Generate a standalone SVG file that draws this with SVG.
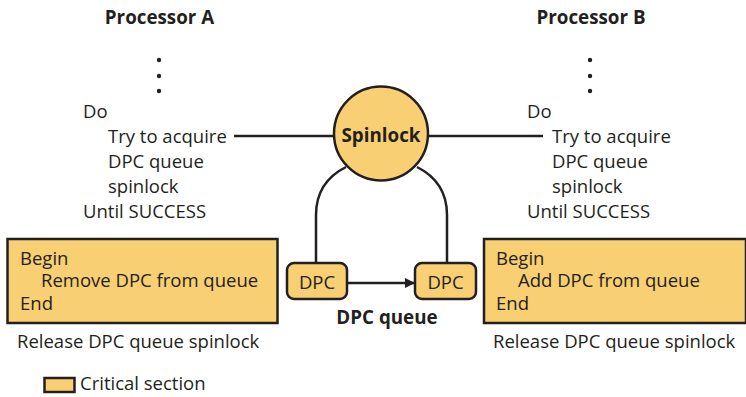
<svg xmlns="http://www.w3.org/2000/svg" width="746" height="397" viewBox="0 0 746 397">
<style>
.t{font-family:"Open Sans","Noto Sans","Liberation Sans",sans-serif;font-size:18.5px;fill:#231f20}
.b{font-family:"Open Sans","Noto Sans","Liberation Sans",sans-serif;font-size:18.8px;font-weight:bold;fill:#231f20}
.box{fill:#f8cf72;stroke:#231f20;stroke-width:2.5}
.ln{fill:none;stroke:#231f20;stroke-width:2.5}
.dot{fill:#231f20}
</style>
<defs>
<marker id="ah" viewBox="0 0 10 10" refX="9" refY="5" markerWidth="4" markerHeight="4" orient="auto" markerUnits="strokeWidth">
<path d="M0,0 L10,5 L0,10 z" fill="#231f20"/>
</marker>
</defs>
<g id="connectors">
<line class="ln" x1="234" y1="136" x2="334" y2="136"/>
<line class="ln" x1="428" y1="136" x2="543" y2="136"/>
<path class="ln" d="M316,263 L316,215 C316,190 328,176 346,167"/>
<path class="ln" d="M447,263 L447,215 C447,190 435,176 417,167"/>
<line class="ln" x1="347" y1="283" x2="414" y2="283" marker-end="url(#ah)"/>
</g>
<g id="procA">
<text class="b" x="159.5" y="24" text-anchor="middle">Processor A</text>
<circle class="dot" cx="159" cy="60" r="2.2"/>
<circle class="dot" cx="159" cy="76" r="2.2"/>
<circle class="dot" cx="159" cy="91" r="2.2"/>
<text class="t" x="83" y="118">Do</text>
<text class="t" x="108" y="143">Try to acquire</text>
<text class="t" x="108" y="168">DPC queue</text>
<text class="t" x="108" y="193">spinlock</text>
<text class="t" x="83" y="218">Until SUCCESS</text>
</g>
<g id="procB">
<text class="b" x="591" y="24" text-anchor="middle">Processor B</text>
<circle class="dot" cx="590" cy="60" r="2.2"/>
<circle class="dot" cx="590" cy="76" r="2.2"/>
<circle class="dot" cx="590" cy="91" r="2.2"/>
<text class="t" x="527" y="118">Do</text>
<text class="t" x="552" y="143">Try to acquire</text>
<text class="t" x="552" y="168">DPC queue</text>
<text class="t" x="552" y="193">spinlock</text>
<text class="t" x="527" y="218">Until SUCCESS</text>
</g>
<g id="spinlock">
<circle class="box" cx="381" cy="133.5" r="47"/>
<text class="b" x="381" y="142" text-anchor="middle" font-size="21">Spinlock</text>
</g>
<g id="dpc1">
<rect class="box" x="287" y="263" width="60" height="36" rx="7"/>
<text class="t" x="317" y="289" text-anchor="middle" font-size="20">DPC</text>
</g>
<g id="dpc2">
<rect class="box" x="415" y="263" width="61" height="36" rx="7"/>
<text class="t" x="445.5" y="289" text-anchor="middle" font-size="20">DPC</text>
</g>
<g id="queueLabel">
<text class="b" x="387" y="324" text-anchor="middle" font-size="19.2">DPC queue</text>
</g>
<g id="critA">
<rect class="box" x="7.5" y="239" width="270" height="84"/>
<text class="t" x="20" y="265">Begin</text>
<text class="t" x="41" y="287">Remove DPC from queue</text>
<text class="t" x="20" y="310">End</text>
<text class="t" x="17" y="348">Release DPC queue spinlock</text>
</g>
<g id="critB">
<rect class="box" x="484" y="239" width="262" height="84"/>
<text class="t" x="496" y="265">Begin</text>
<text class="t" x="518" y="287">Add DPC from queue</text>
<text class="t" x="496" y="310">End</text>
<text class="t" x="493" y="348">Release DPC queue spinlock</text>
</g>
<g id="legend">
<rect class="box" x="44.5" y="378" width="30" height="14"/>
<text class="t" x="80" y="390">Critical section</text>
</g>
</svg>
